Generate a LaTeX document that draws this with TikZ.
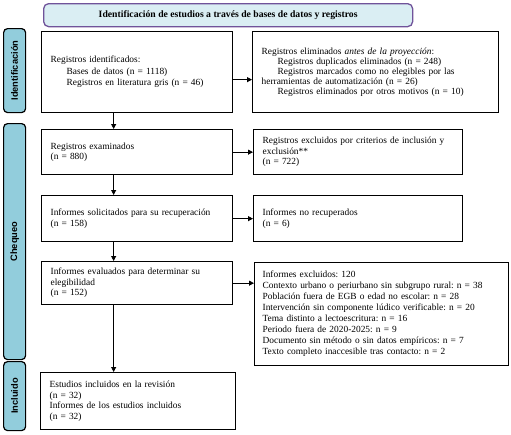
\documentclass[tikz,border=0pt]{standalone}
\usepackage{fontspec}
\setmainfont{Liberation Serif}
\newfontfamily\lsans{Liberation Sans}
\usetikzlibrary{arrows.meta}
\definecolor{sideblue}{HTML}{92CDDC}
\definecolor{bannerfill}{HTML}{DAEEF3}
\definecolor{bannerdraw}{HTML}{70539A}
\begin{document}
\frenchspacing
\begin{tikzpicture}[x=1pt,y=-1pt,
  box/.style={draw=black,line width=1.3pt,fill=white,anchor=north west,inner xsep=9pt,inner ysep=0pt,align=left,font=\fontsize{9.4}{10.5}\selectfont},
  side/.style={draw=black,line width=1.2pt,fill=sideblue,rounded corners=4pt,anchor=north west,inner sep=0pt,minimum width=22pt},
  sidetext/.style={rotate=90,font=\lsans\bfseries\fontsize{9.3}{11}\selectfont},
  banner/.style={draw=bannerdraw,line width=1.3pt,fill=bannerfill,rounded corners=5pt,anchor=north west,inner sep=0pt,font=\bfseries\fontsize{9.7}{11}\selectfont},
  arr/.style={-{Triangle[length=5pt,width=5pt]},line width=0.8pt}]
\useasboundingbox (0,0) rectangle (511,434);
\def\ind{\hspace*{16pt}}
% banner
\node[banner,minimum width=369pt,minimum height=23pt] (t) at (43,3) {Identificación de estudios a través de bases de datos y registros};
% side labels
\node[side,minimum height=84pt] (s1) at (3,28) {};
\node[sidetext] (s1t) at (s1.center) {Identificación};
\node[side,minimum height=236pt] (s2) at (3,123) {};
\node[sidetext] (s2t) at (s2.center) {Chequeo};
\node[side,minimum height=69pt] (s3) at (3,361) {};
\node[sidetext] (s3t) at (s3.center) {Incluido};
% boxes
\node[box,text width=173pt,minimum height=81pt,font=\fontsize{9.4}{11.5}\selectfont] (b1) at (41,31) {Registros identificados:\\\ind Bases de datos (n = 1118)\\\ind Registros en literatura gris (n = 46)};
\node[box,text width=228pt,minimum height=81pt,font=\fontsize{9.4}{10}\selectfont] (b2) at (252,31) {Registros eliminados \textit{antes de la proyección}:\\\ind Registros duplicados eliminados (n = 248)\\\ind Registros marcados como no elegibles por las\\herramientas de automatización (n = 26)\\\ind Registros eliminados por otros motivos (n = 10)};
\node[box,text width=173pt,minimum height=45pt] (b3) at (41,129) {Registros examinados\\(n = 880)};
\node[box,text width=191pt,minimum height=45pt] (b4) at (253,129) {Registros excluidos por criterios de inclusión y\\exclusión**\\(n = 722)};
\node[box,text width=173pt,minimum height=46pt] (b5) at (41,195) {Informes solicitados para su recuperación\\(n = 158)};
\node[box,text width=191pt,minimum height=46pt] (b6) at (253,195) {Informes no recuperados\\(n = 6)};
\node[box,text width=173pt,minimum height=43pt] (b7) at (41,261) {Informes evaluados para determinar su\\elegibilidad\\(n = 152)};
\node[box,text width=238pt,inner xsep=8pt,minimum height=103pt,font=\fontsize{9.4}{11}\selectfont] (b8) at (254,262) {Informes excluidos: 120\\Contexto urbano o periurbano sin subgrupo rural: n = 38\\Población fuera de EGB o edad no escolar: n = 28\\Intervención sin componente lúdico verificable: n = 20\\Tema distinto a lectoescritura: n = 16\\Periodo fuera de 2020-2025: n = 9\\Documento sin método o sin datos empíricos: n = 7\\Texto completo inaccesible tras contacto: n = 2};
\node[box,text width=177pt,minimum height=57pt] (b9) at (40,372) {Estudios incluidos en la revisión\\(n = 32)\\Informes de los estudios incluidos\\(n = 32)};
% arrows
\draw[arr] ([yshift=-7.5pt]b1.east) coordinate (a1) -- (a1 -| b2.west);
\draw[arr] (b3.east) -- (b3.east -| b4.west);
\draw[arr] (b5.east) -- (b5.east -| b6.west);
\draw[arr] (b7.east) -- (b7.east -| b8.west);
\draw[arr] ([xshift=-23.5pt]b1.south) coordinate (d1) -- (d1 |- b3.north);
\draw[arr] ([xshift=-23.5pt]b3.south) coordinate (d2) -- (d2 |- b5.north);
\draw[arr] ([xshift=-23.5pt]b5.south) coordinate (d3) -- (d3 |- b7.north);
\draw[arr] ([xshift=-23.5pt]b7.south) coordinate (d4) -- (d4 |- b9.north);
\end{tikzpicture}
\end{document}
